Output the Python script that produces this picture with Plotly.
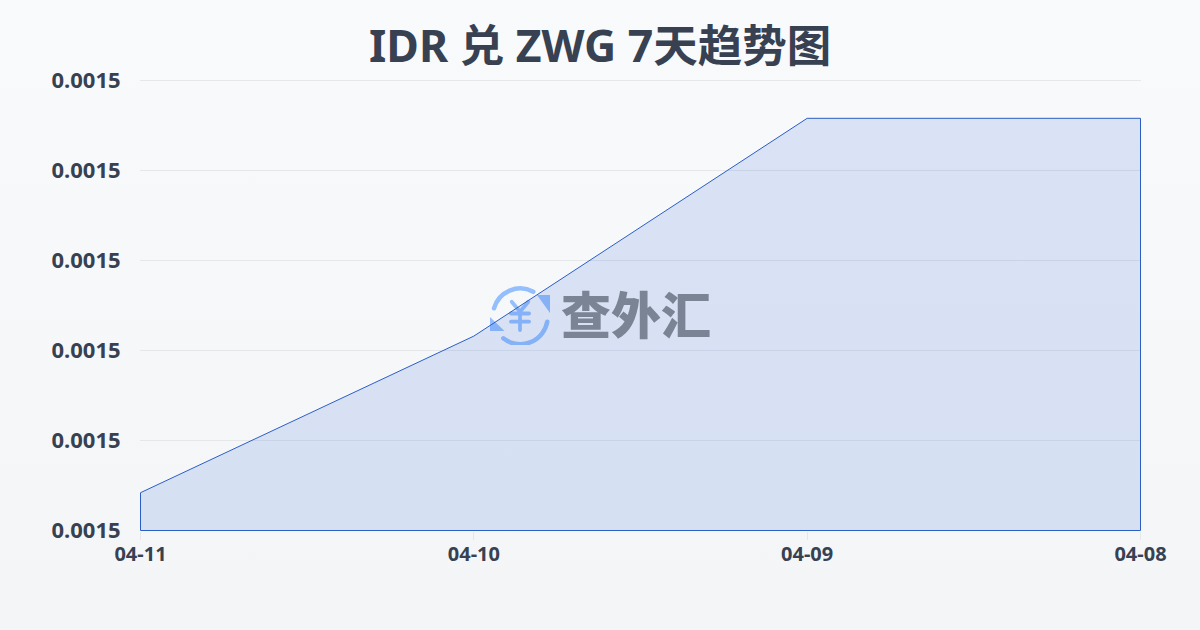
import base64
import plotly.graph_objects as go

categories = ["04-11", "04-10", "04-09", "04-08"]
rates = [0.0015021, 0.0015108, 0.0015229, 0.0015229]
y_floor = 0.0015
y_top = 0.001525
y_ticks = [0.0015, 0.001505, 0.00151, 0.001515, 0.00152, 0.001525]
title_text = "IDR 兑 ZWG 7天趋势图"
watermark_text = "查外汇"

W, H = 1200, 630
FONT = "'Noto Sans', 'Noto Sans CJK SC', sans-serif"
INK = "#374151"
LOGO = "#95bffc"

# half a pixel of slack on each axis, so the outline sits on whole pixels
half_px_x = 0.5 * 3 / 1000
half_px_y = 0.5 * (y_top - y_floor) / 450

bg = ('<svg xmlns="http://www.w3.org/2000/svg" width="1200" height="630">'
      '<defs><linearGradient id="g" x1="0" y1="0" x2="0" y2="1">'
      '<stop offset="0" stop-color="#f9fafc"/><stop offset="1" stop-color="#f3f5f7"/>'
      '</linearGradient></defs><rect width="1200" height="630" fill="url(#g)"/></svg>')
logo = ('<svg xmlns="http://www.w3.org/2000/svg" width="60" height="60" viewBox="0 0 60 60">'
        f'<g fill="none" stroke="{LOGO}" stroke-width="4.5" stroke-linecap="round">'
        '<path d="M4 23.3 A27.5 27.5 0 0 1 43.3 6.7"/>'
        '<path d="M57.3 36.7 A27.5 27.5 0 0 1 13.3 53.3"/></g>'
        f'<g fill="{LOGO}"><path d="M47 10 L60 10 L60 28 Z"/>'
        '<path d="M0 32 L0 46 L14.5 46 Z"/></g>'
        f'<g fill="none" stroke="{LOGO}" stroke-width="3.8" stroke-linecap="round" stroke-linejoin="round">'
        '<path d="M21.7 16.7 L30 26.7 L38.3 16.7"/><path d="M30 26.7 L30 45"/>'
        '<path d="M21 28.5 L39 28.5"/><path d="M21 36.7 L39 36.7"/></g>'
        '</svg>')


def uri(svg):
    return "data:image/svg+xml;base64," + base64.b64encode(svg.encode()).decode()


# closed outline: along the data, down the right edge, back along the floor
xs = categories + [categories[-1], categories[0], categories[0]]
ys = rates + [y_floor, y_floor, rates[0]]

fig = go.Figure(go.Scatter(
    x=xs, y=ys, mode="lines", fill="toself", cliponaxis=False,
    fillcolor="rgba(37,95,215,0.14)",
    line=dict(color="#2b5ec4", width=1),
    hoverinfo="skip", showlegend=False,
))

fig.update_layout(
    width=W, height=H,
    margin=dict(l=0, r=0, t=0, b=0, pad=0),
    paper_bgcolor="#f6f8fa", plot_bgcolor="rgba(0,0,0,0)",
    font=dict(family=FONT, color=INK),
    xaxis=dict(
        automargin=False,
        domain=[140 / W, 1141 / W], type="category",
        categoryorder="array", categoryarray=categories,
        range=[-half_px_x, 3 + half_px_x], showgrid=False, zeroline=False, showline=False,
        ticks="outside", ticklen=8, tickcolor="#e5e7eb", tickwidth=1,
        ticklabelstandoff=-3,
        tickfont=dict(size=20, color=INK, family=FONT, weight=700),
    ),
    yaxis=dict(
        automargin=False,
        domain=[1 - 531 / H, 1 - 80 / H],
        range=[y_floor - half_px_y, y_top + half_px_y], tickvals=y_ticks, tickformat=".4f",
        showgrid=True, gridcolor="#e5e7eb", gridwidth=1,
        zeroline=False, showline=False,
        ticks="outside", ticklen=14, tickcolor="rgba(0,0,0,0)",
        tickfont=dict(size=22, color=INK, family=FONT, weight=700),
    ),
    shapes=[
        dict(type="line", xref="x domain", yref="y", x0=0, x1=1, y0=y_top, y1=y_top,
             line=dict(color="#e5e7eb", width=1), layer="below"),
    ],
    images=[
        dict(source=uri(bg), xref="paper", yref="paper", x=0, y=1, sizex=1, sizey=1,
             xanchor="left", yanchor="top", sizing="stretch", layer="below"),
        dict(source=uri(logo), xref="paper", yref="paper",
             x=490 / W, y=1 - 285 / H, sizex=60 / W, sizey=60 / H,
             xanchor="left", yanchor="top", sizing="stretch", layer="below"),
    ],
    annotations=[
        dict(text=f"<b>{title_text}</b>", xref="paper", yref="paper", x=0.5, y=1 - 45 / H,
             xanchor="center", yanchor="middle", showarrow=False,
             font=dict(size=44.5, color=INK, family=FONT)),
        dict(text=watermark_text, xref="paper", yref="paper", x=636 / W, y=1 - 312 / H,
             xanchor="center", yanchor="middle", showarrow=False,
             font=dict(size=50, color="#7b8494", family="'Noto Sans CJK SC'", weight=900)),
    ],
)

fig.write_html("out.html", config=dict(displayModeBar=False),
               post_script="document.body.style.margin='0';document.body.style.overflow='hidden';")
